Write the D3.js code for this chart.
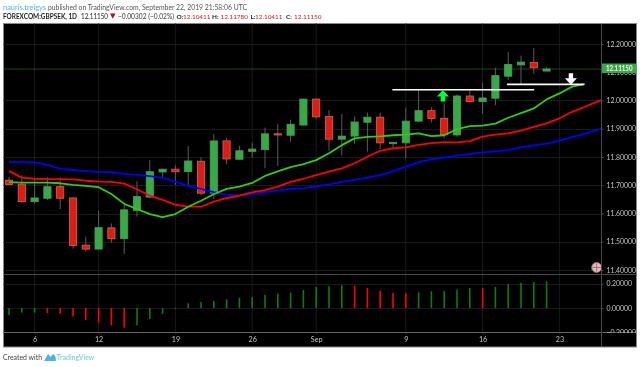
<!DOCTYPE html>
<html>
<head>
<meta charset="utf-8">
<script src="https://cdn.jsdelivr.net/npm/d3@7"></script>
<style>
  html, body { margin: 0; padding: 0; background: #fff; }
  svg { display: block; filter: blur(0.3px); }
  text { font-family: "Lato", "Open Sans", sans-serif; }
</style>
</head>
<body>
<div id="one"></div>
<script>
// daily candles, bar index 0..42
const opens  = [11.718,11.704,11.642,11.654,11.695,11.655,11.488,11.474,11.549,11.511,11.611,11.658,11.747,11.757,11.748,11.785,11.672,11.857,11.792,11.820,11.826,11.882,11.877,11.913,12.005,11.943,11.863,11.874,11.923,11.941,11.847,11.850,11.927,11.964,11.937,11.878,12.016,11.996,12.008,12.086,12.126,12.135,12.10411];
const highs  = [11.730,11.735,11.727,11.728,11.728,11.657,11.517,11.610,11.565,11.630,11.714,11.789,11.758,11.771,11.839,11.799,11.881,11.868,11.840,11.851,11.904,11.916,11.932,12.007,12.007,11.966,11.952,11.943,11.957,11.957,11.853,11.975,12.037,11.976,11.990,12.022,12.037,12.063,12.116,12.171,12.159,12.185,12.1178];
const lows   = [11.702,11.638,11.635,11.648,11.615,11.476,11.465,11.473,11.497,11.457,11.589,11.654,11.723,11.701,11.701,11.665,11.651,11.774,11.791,11.798,11.760,11.768,11.854,11.912,11.934,11.822,11.805,11.846,11.819,11.828,11.835,11.795,11.923,11.922,11.867,11.872,11.995,11.952,11.983,12.073,12.058,12.095,12.10411];
const closes = [11.703,11.642,11.655,11.695,11.654,11.487,11.474,11.550,11.511,11.613,11.660,11.748,11.757,11.748,11.786,11.672,11.857,11.793,11.822,11.828,11.882,11.878,11.916,12.005,11.942,11.863,11.874,11.924,11.941,11.850,11.852,11.927,11.964,11.936,11.879,12.016,11.996,12.009,12.088,12.128,12.136,12.116,12.1115];
const candleColors = ['r','r','g','g','r','r','r','g','r','g','g','g','g','r','g','r','g','r','g','g','g','r','g','g','r','r','g','g','g','r','g','g','g','r','r','g','r','g','g','g','g','r','g'];

// moving averages, these run past the last bar because they are displaced
const maBlue  = [11.782,11.782,11.781,11.772,11.758,11.754,11.750,11.747,11.746,11.740,11.737,11.732,11.726,11.713,11.697,11.687,11.676,11.667,11.663,11.669,11.676,11.681,11.687,11.690,11.695,11.703,11.712,11.719,11.727,11.736,11.750,11.766,11.782,11.792,11.798,11.805,11.811,11.816,11.820,11.824,11.834,11.841,11.847,11.858,11.870,11.883,11.896,11.910];
const maRed   = [11.750,11.727,11.723,11.722,11.722,11.721,11.716,11.713,11.712,11.706,11.686,11.663,11.648,11.631,11.624,11.624,11.642,11.654,11.663,11.675,11.683,11.695,11.712,11.723,11.736,11.748,11.760,11.778,11.801,11.822,11.831,11.834,11.843,11.849,11.853,11.852,11.856,11.872,11.879,11.884,11.893,11.907,11.919,11.937,11.960,11.978,11.997,12.012];
const maGreen = [11.711,11.709,11.709,11.709,11.707,11.701,11.698,11.693,11.669,11.634,11.616,11.598,11.587,11.598,11.624,11.645,11.668,11.687,11.695,11.708,11.733,11.749,11.764,11.775,11.789,11.813,11.842,11.866,11.871,11.873,11.877,11.879,11.884,11.874,11.877,11.899,11.909,11.911,11.918,11.939,11.955,11.972,12.004,12.025,12.049,12.058];

// lower oscillator pane
const oscValues = [-0.058,-0.038,-0.038,-0.041,-0.047,-0.071,-0.099,-0.121,-0.143,-0.162,-0.143,-0.090,-0.049,-0.008,0.038,0.049,0.058,0.071,0.085,0.090,0.107,0.118,0.126,0.148,0.173,0.181,0.187,0.184,0.165,0.143,0.123,0.121,0.129,0.137,0.140,0.151,0.165,0.165,0.173,0.197,0.208,0.214,0.219];
const oscColors = ['g','g','g','r','r','r','r','r','r','r','g','g','g','g','g','g','g','g','g','g','g','g','g','g','g','g','g','r','r','r','r','r','g','g','g','g','g','r','g','g','g','g','g'];

const priceTicks = [11.4,11.5,11.6,11.7,11.8,11.9,12.0,12.1,12.2];
const oscTicks = [-0.2,0,0.2];
const timeTicks = [2,7,13,19,24,31,37,43];
const timeLabels = ['6','12','19','26','Sep','9','16','23'];
const lastPrice = 12.1115;

// hand drawn annotations: [bar from, bar to, price]
const whiteLines = [[29.95,41.03,12.038],[38.9,44.9,12.057]];
const upArrow = [33.9,12.037];
const downArrow = [43.9,12.056];

const W = 640, H = 367;
const frame = {left: 3.5, right: 636.5, top: 23.5, bottom: 347};
const paneRight = 601.5, mainBottom = 274, oscBottom = 332;

const x = d3.scaleLinear().domain([0,43]).range([9,559.4]);
const y = d3.scaleLinear().domain([11.4,12.2]).range([270,44]);
const yOsc = d3.scaleLinear().domain([-0.2,0.2]).range([332.3,283.7]);

const svg = d3.select('#one').append('svg').attr('width',W).attr('height',H);
const defs = svg.append('defs');
defs.append('clipPath').attr('id','mainClip').append('rect')
  .attr('x',frame.left).attr('y',frame.top).attr('width',paneRight-frame.left).attr('height',mainBottom-frame.top);
defs.append('clipPath').attr('id','scaleClip').append('rect')
  .attr('x',paneRight).attr('y',mainBottom).attr('width',frame.right-paneRight).attr('height',oscBottom-mainBottom+1);

svg.append('rect').attr('x',frame.left).attr('y',frame.top)
  .attr('width',frame.right-frame.left).attr('height',frame.bottom-frame.top)
  .attr('fill','#000').attr('stroke','#8a8a8a').attr('stroke-width',1);

// grid
const grid = svg.append('g').attr('stroke','#1a1a1a').attr('stroke-width',1);
timeTicks.forEach(t => {
  grid.append('line').attr('x1',x(t)).attr('x2',x(t)).attr('y1',frame.top).attr('y2',oscBottom);
});
priceTicks.filter(p => p != 12.1).forEach(p => {
  grid.append('line').attr('x1',frame.left).attr('x2',paneRight).attr('y1',Math.round(y(p))+.5).attr('y2',Math.round(y(p))+.5);
});
oscTicks.forEach(p => {
  grid.append('line').attr('x1',frame.left).attr('x2',paneRight).attr('y1',Math.round(yOsc(p))+.5).attr('y2',Math.round(yOsc(p))+.5);
});

const main = svg.append('g').attr('clip-path','url(#mainClip)');

main.append('line').attr('x1',frame.left).attr('x2',paneRight)
  .attr('y1',y(lastPrice)).attr('y2',y(lastPrice))
  .attr('stroke','#17481a').attr('stroke-width',1);

// candles
const bars = d3.range(opens.length);
main.append('g').selectAll('line').data(bars).join('line')
  .attr('x1',i=>x(i)).attr('x2',i=>x(i))
  .attr('y1',i=>y(highs[i])).attr('y2',i=>y(lows[i]))
  .attr('stroke','#5c5c5c').attr('stroke-width',1);
main.append('g').selectAll('rect').data(bars).join('rect')
  .attr('x',i=>x(i)-3.6).attr('width',7.2)
  .attr('y',i=>y(Math.max(opens[i],closes[i])))
  .attr('height',i=>Math.abs(y(opens[i])-y(closes[i])))
  .attr('fill',i=>candleColors[i]=='g' ? '#37a947' : '#d71f18')
  .attr('stroke',i=>candleColors[i]=='g' ? '#4a9d58' : '#e2604c')
  .attr('stroke-width',.8);

// moving averages
const maLine = d3.line().x((d,i)=>x(i)).y(d=>y(d));
[[maBlue,'#0000ff'],[maRed,'#ff0000'],[maGreen,'#33cc11']].forEach(m => {
  main.append('path').attr('d',maLine(m[0])).attr('fill','none')
    .attr('stroke',m[1]).attr('stroke-width',1.8).attr('stroke-linejoin','round');
});

// annotations
whiteLines.forEach(l => {
  main.append('line').attr('x1',x(l[0])).attr('x2',x(l[1])).attr('y1',y(l[2])).attr('y2',y(l[2]))
    .attr('stroke','#fff').attr('stroke-width',1.7);
});
main.append('path').attr('d','M0,0L6,6.5L2.2,6.5L2.2,11.5L-2.2,11.5L-2.2,6.5L-6,6.5Z')
  .attr('transform','translate('+x(upArrow[0])+','+y(upArrow[1])+')').attr('fill','#00ff33');
main.append('path').attr('d','M0,0L6,-6.5L2.2,-6.5L2.2,-11.5L-2.2,-11.5L-2.2,-6.5L-6,-6.5Z')
  .attr('transform','translate('+x(downArrow[0])+','+y(downArrow[1])+')').attr('fill','#fff');

// flag badge in the corner of the main pane
const flag = main.append('g').attr('transform','translate(596.7,267.5)');
flag.append('circle').attr('r',5).attr('fill','#d8bcc8').attr('stroke','#a8683a').attr('stroke-width',1);
flag.append('path').attr('d','M-4,0H4M0,-4V4').attr('stroke','#c0607a').attr('stroke-width',1);

// oscillator
svg.append('g').selectAll('rect').data(bars).join('rect')
  .attr('x',i=>x(i)-.8).attr('width',1.6)
  .attr('y',i=>Math.min(yOsc(0),yOsc(oscValues[i])))
  .attr('height',i=>Math.abs(yOsc(0)-yOsc(oscValues[i])))
  .attr('fill',i=>oscColors[i]=='g' ? '#0a7d0a' : '#ff0000');

// pane borders
const borders = svg.append('g').attr('stroke','#4a4a4a').attr('stroke-width',1);
borders.append('line').attr('x1',frame.left).attr('x2',frame.right).attr('y1',mainBottom+.5).attr('y2',mainBottom+.5);
borders.append('line').attr('x1',frame.left).attr('x2',frame.right).attr('y1',oscBottom+.5).attr('y2',oscBottom+.5).attr('stroke','#666');
borders.append('line').attr('x1',paneRight).attr('x2',paneRight).attr('y1',frame.top).attr('y2',frame.bottom);

// axes
function styleAxis(g, size){
  g.select('.domain').remove();
  g.selectAll('text').attr('fill','#c4c4c4').style('font-size',size);
}
svg.append('g').attr('transform','translate('+paneRight+',0)')
  .call(d3.axisRight(y).tickValues(priceTicks).tickSize(2).tickPadding(3).tickFormat(d3.format('.5f')))
  .call(styleAxis,'6.9px').selectAll('line').attr('stroke','#4a4a4a');
svg.append('g').attr('clip-path','url(#scaleClip)').append('g').attr('transform','translate('+paneRight+',0)')
  .call(d3.axisRight(yOsc).tickValues(oscTicks).tickSize(2).tickPadding(3).tickFormat(d3.format('.5f')))
  .call(styleAxis,'6.9px').selectAll('line').attr('stroke','#4a4a4a');
svg.append('g').attr('transform','translate(0,'+oscBottom+')')
  .call(d3.axisBottom(x).tickValues(timeTicks).tickSize(2).tickPadding(3).tickFormat((d,i)=>timeLabels[i]))
  .call(styleAxis,'7.2px').selectAll('line').attr('stroke','#4a4a4a');

// last price badge
svg.append('rect').attr('x',paneRight+.5).attr('y',63.5).attr('width',34.5).attr('height',9.5).attr('fill','#37a947');
svg.append('text').attr('x',606).attr('y',71).attr('textLength',26.5).attr('lengthAdjust','spacingAndGlyphs')
  .attr('fill','#fff').style('font-size','7.2px').style('font-weight','bold').text(d3.format('.5f')(lastPrice));

// small helper so each header piece lands where it does in the picture
function label(px, py, str, len, color, weight, size){
  let t = svg.append('text').attr('x',px).attr('y',py)
    .attr('fill',color).style('font-size',size || '7.8px').style('font-weight',weight || 'normal')
    .text(str);
  if(len) t.attr('textLength',len).attr('lengthAdjust','spacingAndGlyphs');
}

// header
label(3,9.5,'nauris.treigys',43,'#4fb8ee');
label(48,9.5,'published on TradingView.com, September 22, 2019 21:58:06 UTC',199,'#555');
label(3,18.5,'FOREXCOM:GBPSEK, 1D',74,'#222','bold','6.9px');
label(81,18.5,'12.11150',27,'#222',null,'6.6px');
svg.append('path').attr('d','M110,13.5H115.5L112.75,18.8Z').attr('fill','#a51616');
label(118,18.5,'\u22120.00302 (\u22120.02%)',56,'#333',null,'6.6px');
[['O:','12.10411',176.5,183],['H:','12.11780',212,220.5],['L:','12.10411',250.5,255],['C:','12.11150',286,294]].forEach(o => {
  label(o[2],18.5,o[0],null,'#222','bold','6.4px');
  label(o[3],18.5,o[1],null,'#c8201c','normal','6.4px');
});

// footer
label(3,360.3,'Created with',39,'#444');
svg.append('path').attr('d','M44,361L48,354L50.5,357L53,354Q56.5,356 55.7,361Z').attr('fill','#4fb0e8');
label(56.7,360.3,'TradingView',37.6,'#6cc4f0');
</script>
</body>
</html>
